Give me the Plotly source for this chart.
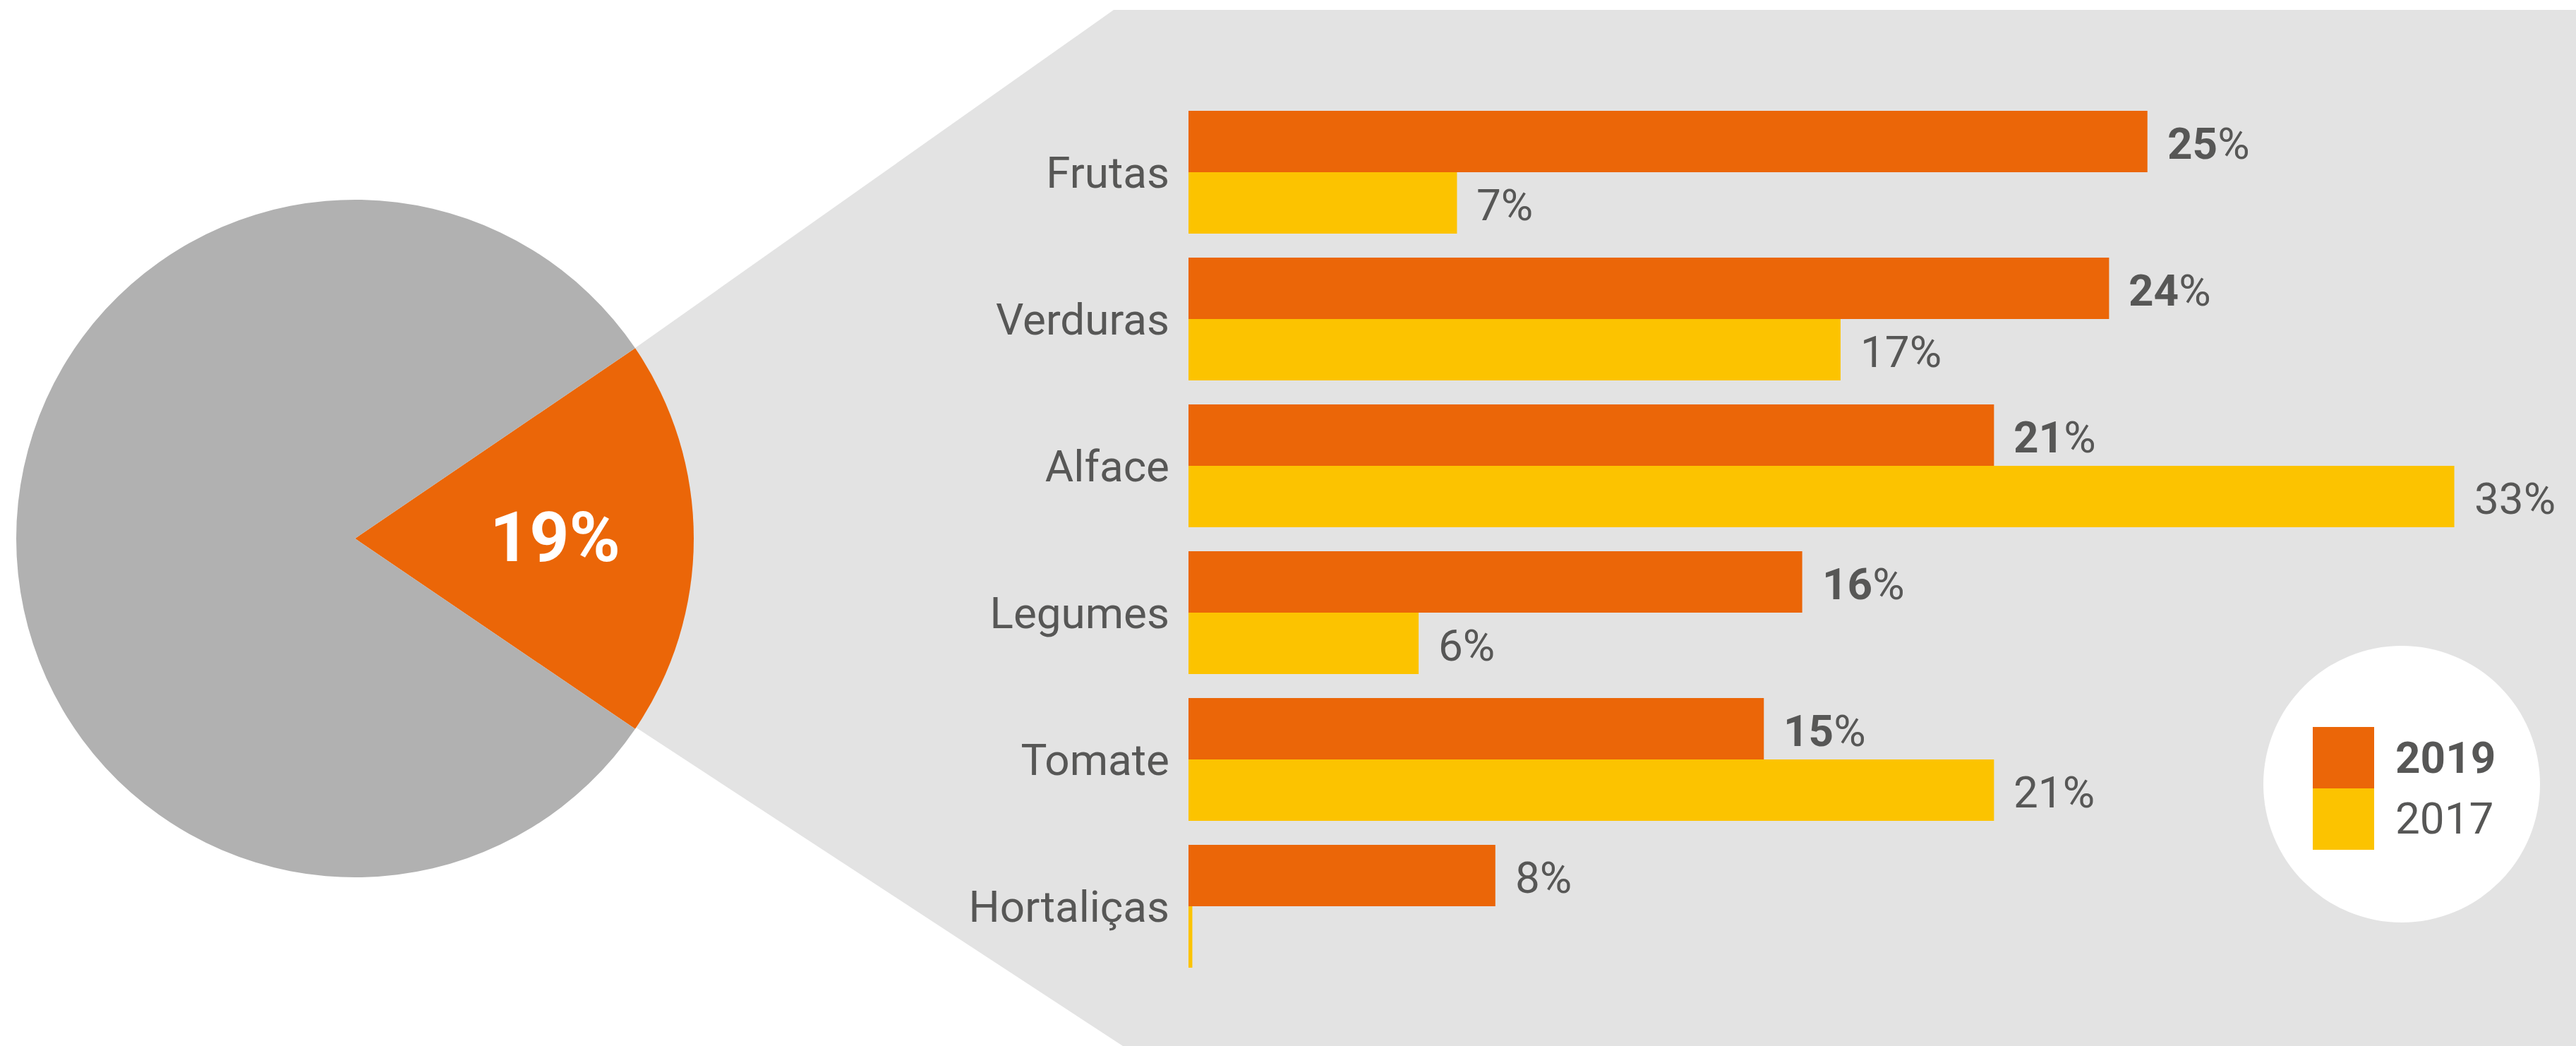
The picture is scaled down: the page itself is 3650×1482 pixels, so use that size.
import plotly.graph_objects as go

# ---------------- data ----------------
categories = ["Frutas", "Verduras", "Alface", "Legumes", "Tomate", "Hortaliças"]
values_2019 = [25, 24, 21, 16, 15, 8]
values_2017 = [7, 17, 33, 6, 21, 0.1]
series_names = ["2019", "2017"]
pie_labels = ["Destaque", "Restante"]
pie_values = [19, 81]

# ---------------- style ----------------
W, H = 3650, 1482
ORANGE = "#EB6608"
YELLOW = "#FCC300"
PIE_GREY = "#B1B1B1"
BG_GREY = "#E3E3E3"
TEXT = "#575756"
FONT = "Roboto"


def px(x):
    return x / W


def py(y):
    return 1 - y / H


BARGAP = 0.163
x0_pix = 1684
px_per_unit = 54.35
x_range_max = (W - x0_pix) / px_per_unit

fig = go.Figure()

# pie (left)
cx, cy, r = 503, 763, 480
half = pie_values[0] / 100 * 360 / 2
fig.add_trace(go.Pie(
    labels=pie_labels, values=pie_values, sort=False, direction="clockwise",
    rotation=90 - half,
    marker=dict(colors=[ORANGE, PIE_GREY], line=dict(width=0)),
    textinfo="none", hoverinfo="skip", showlegend=False,
    domain=dict(x=[px(cx - r), px(cx + r)], y=[py(cy + r), py(cy - r)]),
))

# bars
for name, vals, col in [(series_names[0], values_2019, ORANGE),
                        (series_names[1], values_2017, YELLOW)]:
    fig.add_trace(go.Bar(
        y=categories, x=vals, orientation="h", name=name,
        marker=dict(color=col, line=dict(width=0)),
        showlegend=False, hoverinfo="skip",
    ))

annotations = []
off = (1 - BARGAP) / 4
for i, (a, b) in enumerate(zip(values_2019, values_2017)):
    annotations.append(dict(
        x=a, y=i - off, xref="x", yref="y", xanchor="left", yanchor="middle",
        xshift=26, yshift=-3, showarrow=False,
        text=(f"<b>{a}</b>%" if a >= 10 else f"{a}%"),
        font=dict(family=FONT, size=62, color=TEXT)))
    if b >= 1:
        annotations.append(dict(
            x=b, y=i + off, xref="x", yref="y", xanchor="left", yanchor="middle",
            xshift=26, yshift=-3, showarrow=False, text=f"{b:g}%",
            font=dict(family=FONT, size=62, color=TEXT)))

# pie label
annotations.append(dict(
    x=px(786), y=py(761), xref="paper", yref="paper", showarrow=False,
    text=f"<b>{pie_values[0]}%</b>", font=dict(family=FONT, size=98, color="white"),
    xanchor="center", yanchor="middle"))

# legend texts
annotations.append(dict(
    x=px(3392), y=py(1073), xref="paper", yref="paper", showarrow=False,
    text=f"<b>{series_names[0]}</b>", xanchor="left", yanchor="middle",
    font=dict(family=FONT, size=62, color=TEXT)))
annotations.append(dict(
    x=px(3392), y=py(1159), xref="paper", yref="paper", showarrow=False,
    text=series_names[1], xanchor="left", yanchor="middle",
    font=dict(family=FONT, size=62, color=TEXT)))

# background polygon
poly = [(900, 493), (1578, 14), (W, 14), (W, H), (1591, H), (900, 1030)]
path = "M " + " L ".join(f"{px(x)},{py(y)}" for x, y in poly) + " Z"
shapes = [
    dict(type="path", path=path, xref="paper", yref="paper",
         fillcolor=BG_GREY, line=dict(width=0), layer="below"),
    dict(type="circle", xref="paper", yref="paper",
         x0=px(3403 - 196), x1=px(3403 + 196), y0=py(1111 + 196), y1=py(1111 - 196),
         fillcolor="white", line=dict(width=0), layer="below"),
    dict(type="rect", xref="paper", yref="paper",
         x0=px(3277), x1=px(3364), y0=py(1117), y1=py(1030),
         fillcolor=ORANGE, line=dict(width=0), layer="above"),
    dict(type="rect", xref="paper", yref="paper",
         x0=px(3277), x1=px(3364), y0=py(1204), y1=py(1117),
         fillcolor=YELLOW, line=dict(width=0), layer="above"),
]

fig.update_layout(
    width=W, height=H,
    margin=dict(l=0, r=0, t=0, b=0),
    paper_bgcolor="white", plot_bgcolor="rgba(0,0,0,0)",
    barmode="group", bargap=BARGAP, bargroupgap=0,
    xaxis=dict(domain=[px(x0_pix), 1], range=[0, x_range_max],
               visible=False, showgrid=False, zeroline=False),
    yaxis=dict(domain=[py(1388), py(140)], range=[5.5, -0.5],
               type="category", categoryorder="array", categoryarray=categories,
               showgrid=False, zeroline=False, showline=False, ticks="",
               ticklabelstandoff=26,
               tickfont=dict(family=FONT, size=62, color=TEXT)),
    shapes=shapes,
    annotations=annotations,
    showlegend=False,
)

fig.write_html(
    "out.html",
    config={"displayModeBar": False},
    post_script="document.body.style.margin='0';document.body.style.overflow='hidden';",
)
